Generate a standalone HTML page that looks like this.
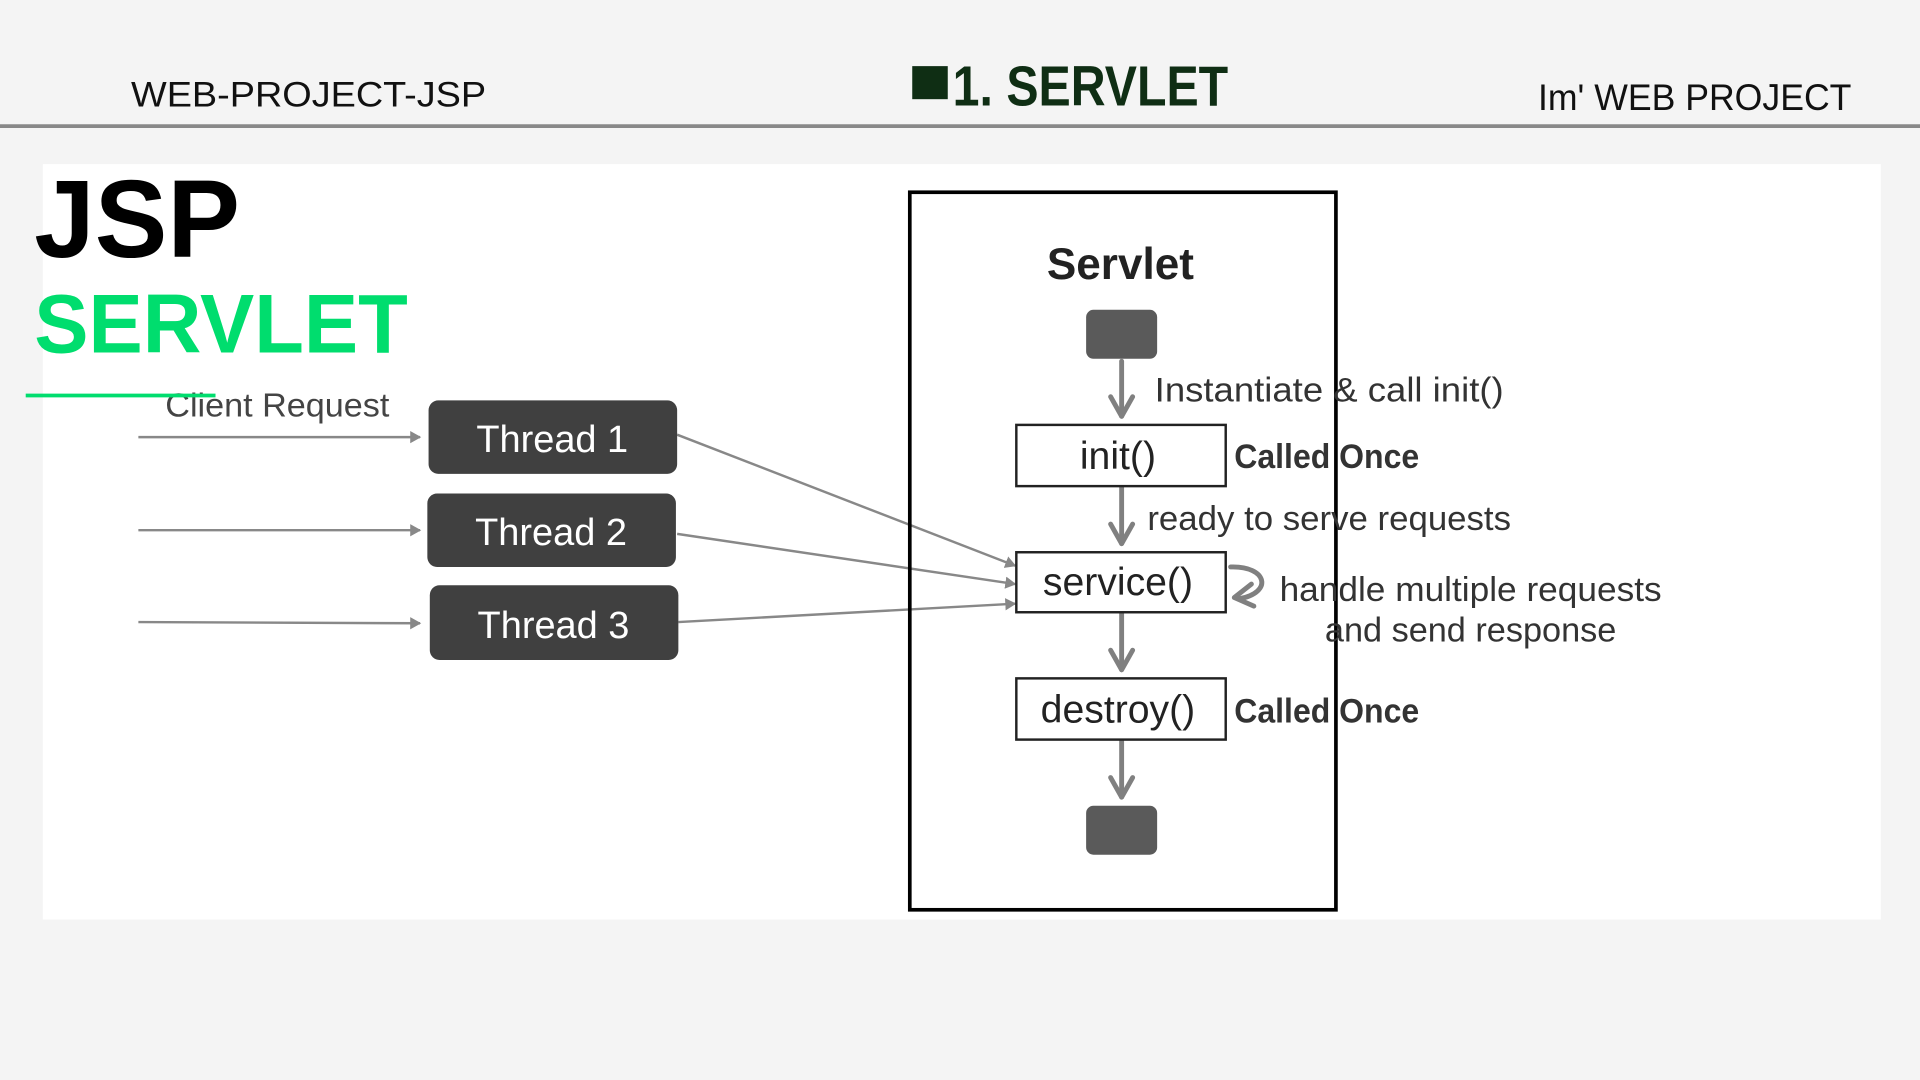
<!DOCTYPE html>
<html><head><meta charset="utf-8"><style>
html,body{margin:0;padding:0;background:#f4f4f4;}
svg{display:block}
text{font-family:"Liberation Sans","DejaVu Sans",sans-serif;}
</style></head><body>
<svg width="1920" height="1080" viewBox="0 0 1568 882" xmlns="http://www.w3.org/2000/svg">
<defs>
<marker id="ah" markerWidth="10" markerHeight="10" refX="8" refY="5" orient="auto" markerUnits="userSpaceOnUse"><path d="M0,0 L9,5 L0,10 z" fill="#888"/></marker>
</defs>
<rect width="1568" height="882" fill="#f4f4f4"/>
<text x="107" y="87" font-size="29" fill="#111" textLength="290" lengthAdjust="spacingAndGlyphs">WEB-PROJECT-JSP</text>
<rect x="745" y="54" width="29" height="27" fill="#0f2e14"/>
<text x="778" y="86" font-size="46" font-weight="bold" fill="#0f2e14" textLength="225" lengthAdjust="spacingAndGlyphs">1. SERVLET</text>
<text x="1256" y="90" font-size="30" fill="#111" textLength="256" lengthAdjust="spacingAndGlyphs">Im'  WEB PROJECT</text>
<line x1="0" y1="103" x2="1568" y2="103" stroke="#888" stroke-width="3"/>
<rect x="35" y="134" width="1501" height="617" fill="#fff"/>
<text x="28" y="210" font-size="90" font-weight="bold" fill="#000" textLength="168" lengthAdjust="spacingAndGlyphs">JSP</text>
<text x="28" y="288" font-size="68" font-weight="bold" fill="#00dd6e" textLength="305" lengthAdjust="spacingAndGlyphs">SERVLET</text>
<text x="135" y="340" font-size="27" fill="#444" textLength="183" lengthAdjust="spacingAndGlyphs">Client Request</text>
<line x1="21" y1="323" x2="176" y2="323" stroke="#00dd6e" stroke-width="3"/>
<g stroke="#888" stroke-width="2" fill="none">
<line x1="113" y1="357" x2="343" y2="357" marker-end="url(#ah)"/>
<line x1="113" y1="433" x2="343" y2="433" marker-end="url(#ah)"/>
<line x1="113" y1="508" x2="343" y2="509" marker-end="url(#ah)"/>
<line x1="553" y1="355" x2="829" y2="462" marker-end="url(#ah)"/>
<line x1="553" y1="436" x2="829" y2="477" marker-end="url(#ah)"/>
<line x1="554" y1="508" x2="829" y2="493" marker-end="url(#ah)"/>
</g>
<g fill="#404040">
<rect x="350" y="327" width="203" height="60" rx="8"/>
<rect x="349" y="403" width="203" height="60" rx="8"/>
<rect x="351" y="478" width="203" height="61" rx="8"/>
</g>
<g fill="#fff" font-size="31" text-anchor="middle">
<text x="451" y="369">Thread  1</text>
<text x="450" y="445">Thread  2</text>
<text x="452" y="521">Thread  3</text>
</g>
<rect x="743" y="157" width="348" height="586" fill="none" stroke="#000" stroke-width="3"/>
<text x="915" y="228" font-size="36" font-weight="bold" fill="#222" text-anchor="middle">Servlet</text>
<rect x="887" y="253" width="58" height="40" rx="6" fill="#5a5a5a"/>
<rect x="887" y="658" width="58" height="40" rx="6" fill="#5a5a5a"/>
<g stroke="#808080" stroke-width="4" fill="none" stroke-linecap="round" stroke-linejoin="round">
<line x1="916" y1="295" x2="916" y2="340"/>
<path d="M907,324 L916,340 L925,324"/>
<line x1="916" y1="398" x2="916" y2="444"/>
<path d="M907,428 L916,444 L925,428"/>
<line x1="916" y1="501" x2="916" y2="547"/>
<path d="M907,531 L916,547 L925,531"/>
<line x1="916" y1="605" x2="916" y2="651"/>
<path d="M907,635 L916,651 L925,635"/>
<path d="M1005,463 C1035,462 1040,484 1012,489"/>
<path d="M1022,477 L1008,488 L1024,495"/>
</g>
<g fill="#fff" stroke="#222" stroke-width="2">
<rect x="830" y="347" width="171" height="50"/>
<rect x="830" y="451" width="171" height="49"/>
<rect x="830" y="554" width="171" height="50"/>
</g>
<g fill="#222" font-size="32" text-anchor="middle">
<text x="913" y="383">init()</text>
<text x="913" y="486">service()</text>
<text x="913" y="590">destroy()</text>
</g>
<g fill="#333" font-size="28">
<text x="943" y="328" textLength="285" lengthAdjust="spacingAndGlyphs">Instantiate &amp; call init()</text>
<text x="937" y="433" textLength="297" lengthAdjust="spacingAndGlyphs">ready to serve requests</text>
<text x="1045" y="491" textLength="312" lengthAdjust="spacingAndGlyphs">handle multiple requests</text>
<text x="1082" y="524" textLength="238" lengthAdjust="spacingAndGlyphs">and send response</text>
</g>
<g fill="#333" font-size="28" font-weight="bold">
<text x="1008" y="382" textLength="151" lengthAdjust="spacingAndGlyphs">Called Once</text>
<text x="1008" y="590" textLength="151" lengthAdjust="spacingAndGlyphs">Called Once</text>
</g>
</svg>
</body></html>
